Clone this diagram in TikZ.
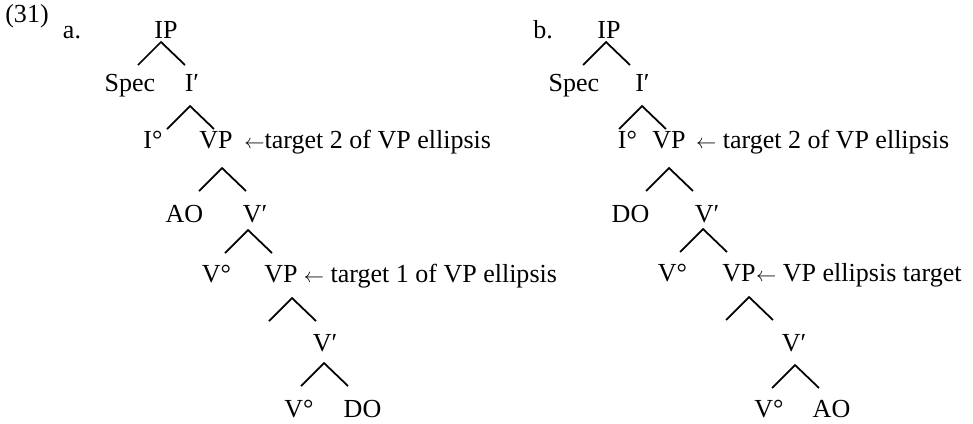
\documentclass[tikz,border=0pt]{standalone}
\usepackage{fontspec}
\setmainfont{Liberation Serif}
\usetikzlibrary{positioning, calc}

% the small arrow in front of the ellipsis targets
\newcommand{\larr}{{\fontsize{15.5}{15}\selectfont$\leftarrow$}}
% one pair of branches under a phrase: apex name, apex position
\newcommand{\tent}[3]{%
  \coordinate (#1) at (#2,#3);
  \coordinate (#1-l) at ($(#1)+(-23,23)$);
  \coordinate (#1-r) at ($(#1)+(24,23)$);
  \draw[branch] (#1-l) -- (#1) -- (#1-r);}

\begin{document}
\begin{tikzpicture}[
        x=0.025cm, y=-0.025cm,
        every node/.style={font=\fontsize{18.5}{21}\selectfont},
        cat/.style={% For the category labels
            inner sep=0pt,
            anchor=base,
            },
        note/.style={% For the ellipsis targets
            inner sep=0pt,
            anchor=base west,
            },
        branch/.style={% For the tree branches
            line width=1.25pt,
            line join=miter,
            },
            ]
        \useasboundingbox (0,0) rectangle (973,423);
        % Example number and items
        \node[cat] (num) at (27,22) {(31)};
        \node[cat] (itema) at (72,38) {a.};
        \node[cat] (itemb) at (543,38) {b.};
        % Tree a
        \node[cat] (aIP) at (166,38) {IP};
        \node[cat] (aSpec) at (130,91) {Spec};
        \node[cat] (aIbar) at (192,91) {I′};
        \node[cat] (aI) at (153,148) {I°};
        \node[cat] (aVP) at (216,148) {VP};
        \node[cat] (aAO) at (184.5,222) {AO};
        \node[cat] (aVbar) at (255,222) {V′};
        \node[cat] (aV) at (216.5,282) {V°};
        \node[cat] (aVPlow) at (281,282) {VP};
        \node[cat] (aVbarlow) at (325,351) {V′};
        \node[cat] (aVlow) at (299,417) {V°};
        \node[cat] (aDO) at (362.5,417) {DO};
        \node[right=8pt of aVP.base east, note] (aTargetHi) {\larr target 2 of VP ellipsis};
        \node[right=4pt of aVPlow.base east, note] (aTargetLo) {\larr\ target 1 of VP ellipsis};
        \tent{aIPt}{161}{42}
        \tent{aIbart}{190}{106}
        \tent{aVPt}{222}{168}
        \tent{aVbart}{248}{230}
        \tent{aVPlowt}{292}{298}
        \tent{aVbarlowt}{324}{363}
        % Tree b
        \node[cat] (bIP) at (609,38) {IP};
        \node[cat] (bSpec) at (574,91) {Spec};
        \node[cat] (bIbar) at (642.5,91) {I′};
        \node[cat] (bI) at (627.5,148) {I°};
        \node[cat] (bVP) at (669,148) {VP};
        \node[cat] (bDO) at (630.5,222) {DO};
        \node[cat] (bVbar) at (707,222) {V′};
        \node[cat] (bV) at (672.5,281) {V°};
        \node[cat] (bVPlow) at (739,281) {VP};
        \node[cat] (bVbarlow) at (794,351) {V′};
        \node[cat] (bVlow) at (769,417) {V°};
        \node[cat] (bAO) at (831.5,417) {AO};
        \node[right=7pt of bVP.base east, note] (bTargetHi) {\larr\ target 2 of VP ellipsis};
        \node[right=0pt of bVPlow.base east, note] (bTargetLo) {\larr\ VP ellipsis target};
        \tent{bIPt}{606}{42}
        \tent{bIbart}{642}{106}
        \tent{bVPt}{669}{168}
        \tent{bVbart}{703}{229}
        \tent{bVPlowt}{749}{297}
        \tent{bVbarlowt}{795}{365}
\end{tikzpicture}
\end{document}
